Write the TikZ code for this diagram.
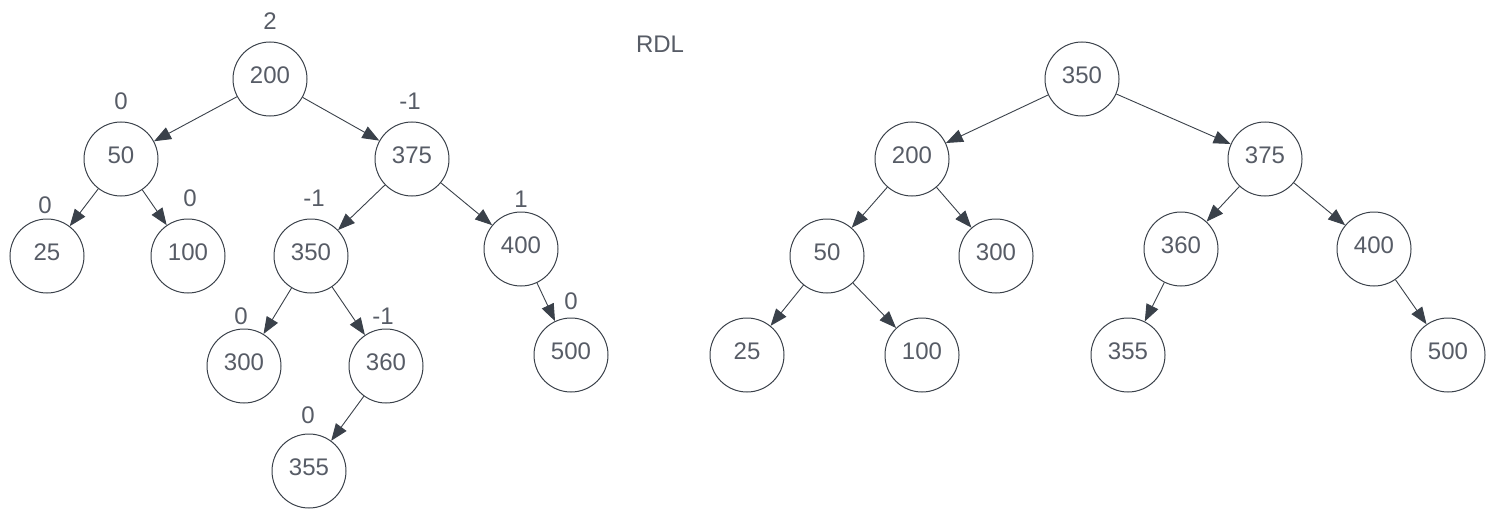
\documentclass[tikz,border=0pt]{standalone}
\usepackage{fontspec}
\setmainfont{Liberation Sans}
\usetikzlibrary{arrows.meta,positioning}
\definecolor{edgecol}{HTML}{3A414A}
\definecolor{txtcol}{HTML}{575C66}

\begin{document}
\begin{tikzpicture}[x=1pt,y=-1pt,
    vtx/.style={circle,draw=edgecol,line width=1pt,minimum size=74pt,inner sep=0pt,
        text height=17pt,text depth=8pt,text=txtcol,font=\fontsize{24}{28}\selectfont},
    bf/.style={inner sep=0pt,text=txtcol,font=\fontsize{24}{28}\selectfont},
    arr/.style={draw=edgecol,line width=0.9pt,-{Triangle[length=17pt,width=13pt]}}]
			\useasboundingbox (0,0) rectangle (1501,516);
			% tree before rotation
			\foreach \n/\x/\y in {200/270/79,50/121/159,375/412/159,25/47/256,100/188/256,350/311/256,400/521/249,300/244/366,360/386/366,500/571/355,355/309/471}
			\node[vtx] (L\n) at (\x,\y) {\n};
			\foreach \a/\b in {200/50,200/375,50/25,50/100,375/350,375/400,350/300,350/360,360/355,400/500}
			\draw[arr] (L\a) -- (L\b);
			\foreach \n/\t/\d/\s in {200/2/12/0,50/0/12/0,375/-1/12/-2,25/0/5/-2,100/0/12/2,350/-1/12/3,400/1/4/0,300/0/4/-3,360/-1/4/-3,500/0/8/0,355/0/10/-1}
			\node[bf,above=\d pt of L\n,xshift=\s pt] (bL\n) {\t};
			\node[bf] (rdl) at (660,44) {RDL};
			% tree after rotation
			\foreach \n/\x/\y in {350/1082/79,200/912/159,375/1265/159,50/827/256,300/996/256,360/1181/249,400/1374/249,25/747/355,100/922/355,355/1128/355,500/1448/355}
			\node[vtx] (R\n) at (\x,\y) {\n};
			\foreach \a/\b in {350/200,350/375,200/50,200/300,50/25,50/100,375/360,375/400,360/355,400/500}
			\draw[arr] (R\a) -- (R\b);
\end{tikzpicture}
\end{document}
